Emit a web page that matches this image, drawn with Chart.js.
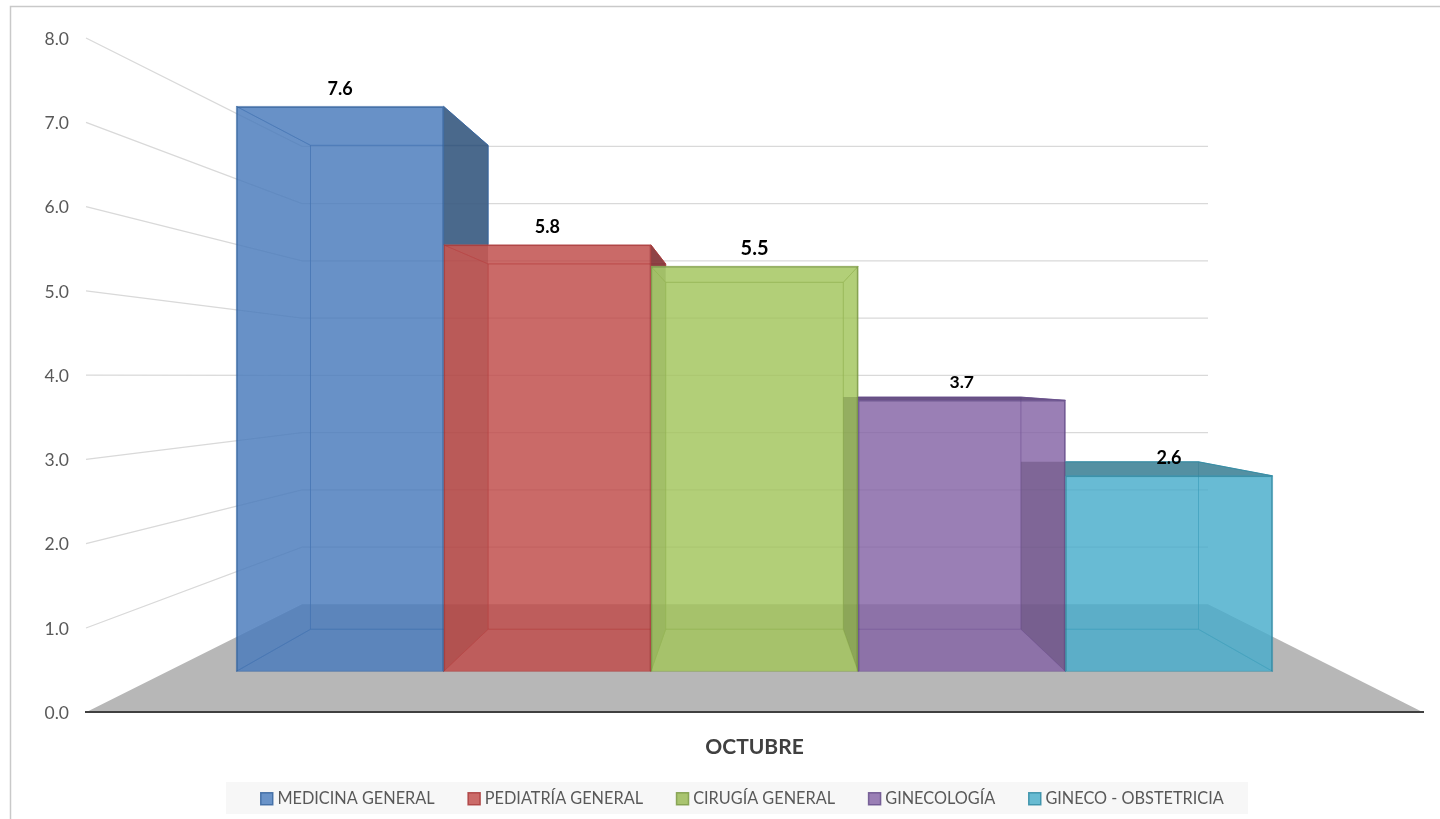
<!DOCTYPE html>
<html lang="en">

<head>
    <meta charset="UTF-8" />
    <title>Octubre</title>
    <script src="https://cdn.jsdelivr.net/npm/chart.js"></script>
    <style>
        html,
        body {
            margin: 0;
            padding: 0;
            background-color: #fff;
            overflow: hidden;
        }

        canvas {
            display: block;
        }
    </style>
</head>

<body>
    <canvas id="barChart" width="1440" height="819"></canvas>
    <script>
        const categories = ["OCTUBRE"];
        const seriesNames = ["MEDICINA GENERAL", "PEDIATRÍA GENERAL", "CIRUGÍA GENERAL", "GINECOLOGÍA", "GINECO - OBSTETRICIA"];
        const seriesValues = [7.63, 5.76, 5.47, 3.66, 2.64];
        const yTicks = [0, 1, 2, 3, 4, 5, 6, 7, 8];

        const faceColors = ["rgba(73,123,188,.58)", "rgba(191,74,72,.58)", "rgba(162,197,92,.58)", "rgba(133,100,165,.58)", "rgba(72,173,203,.58)"];
        const darkColors = ["rgba(58,89,123,.82)", "rgba(127,50,55,.82)", "rgba(94,116,52,.82)", "rgba(89,67,118,.82)", "rgba(71,130,149,.82)"];
        const edgeColors = ["rgba(56,102,160,.85)", "rgba(170,60,60,.85)", "rgba(125,155,70,.85)", "rgba(105,80,140,.85)", "rgba(50,140,165,.85)"];
        const legendFills = ["#6a93c8", "#cb6b69", "#a9c46f", "#9a7fb5", "#68bbd2"];
        const labelSizes = [18, 18, 20, 17.5, 18];

        // how much the back of a bar shrinks towards the middle of the chart
        const backShrink = 0.857;
        const wallLeft = 302;
        const wallRight = 1208;
        const legendShift = 10.5;

        const scene3d = {
            id: "scene3d",
            afterLayout(chart) {
                // legend is centred a bit to the right of the canvas middle
                chart.legend.left += legendShift;
                chart.legend.right += legendShift;
                // x axis box is short because of the legend padding, don't clip its label
                chart.scales.x.bottom += 10;
            },
            beforeDraw(chart) {
                const ctx = chart.ctx;
                const area = chart.chartArea;
                const y = chart.scales.y;
                const yWall = chart.scales.yWall;

                ctx.save();
                // outer frame
                ctx.strokeStyle = "#c9c9c9";
                ctx.lineWidth = 1.5;
                ctx.strokeRect(10.5, 6.5, 1500, 900);

                // legend background
                ctx.fillStyle = "#f7f7f7";
                ctx.fillRect(226, 782, 1022, 32);

                // floor
                ctx.fillStyle = "#b7b7b7";
                ctx.beginPath();
                ctx.moveTo(area.left, area.bottom);
                ctx.lineTo(area.right, area.bottom);
                ctx.lineTo(wallRight, yWall.getPixelForValue(0));
                ctx.lineTo(wallLeft, yWall.getPixelForValue(0));
                ctx.closePath();
                ctx.fill();

                // side and back wall grid lines
                ctx.strokeStyle = "#d9d9d9";
                ctx.lineWidth = 1.3;
                yTicks.forEach((t) => {
                    if (t === 0) return;
                    ctx.beginPath();
                    ctx.moveTo(area.left, y.getPixelForValue(t));
                    ctx.lineTo(wallLeft, yWall.getPixelForValue(t));
                    ctx.lineTo(wallRight, yWall.getPixelForValue(t));
                    ctx.stroke();
                });
                ctx.restore();
            },
            beforeDatasetsDraw(chart) {
                const ctx = chart.ctx;
                const area = chart.chartArea;
                const cx = (area.left + area.right) / 2;
                const yBack = chart.scales.yBack;

                function tracePoly(points) {
                    points.forEach((p, n) => (n ? ctx.lineTo(p[0], p[1]) : ctx.moveTo(p[0], p[1])));
                    ctx.closePath();
                }

                function face(points, fill, edge, edgeAlpha) {
                    ctx.beginPath();
                    tracePoly(points);
                    ctx.fillStyle = fill;
                    ctx.fill();
                    ctx.globalAlpha = edgeAlpha;
                    ctx.strokeStyle = edge;
                    ctx.lineWidth = 1;
                    ctx.stroke();
                    ctx.globalAlpha = 1;
                }

                // front rectangles of the bars either side of bar i
                function neighbourFronts(i) {
                    const rects = [];
                    [i - 1, i + 1].forEach((n) => {
                        if (n < 0 || n >= seriesValues.length) return;
                        const b = chart.getDatasetMeta(n).data[0];
                        rects.push([b.x - b.width / 2, b.y, b.width, b.base - b.y]);
                    });
                    return rects;
                }

                seriesValues.forEach((value, i) => {
                    const bar = chart.getDatasetMeta(i).data[0];
                    const fl = bar.x - bar.width / 2;
                    const fr = bar.x + bar.width / 2;
                    const ft = bar.y;
                    const fb = bar.base;
                    const bl = cx + (fl - cx) * backShrink;
                    const br = cx + (fr - cx) * backShrink;
                    const bt = yBack.getPixelForValue(value);
                    const bb = yBack.getPixelForValue(0);

                    const back = [[bl, bt], [br, bt], [br, bb], [bl, bb]];
                    const bottom = [[fl, fb], [fr, fb], [br, bb], [bl, bb]];
                    const left = [[fl, ft], [bl, bt], [bl, bb], [fl, fb]];
                    const right = [[fr, ft], [br, bt], [br, bb], [fr, fb]];
                    const top = [[fl, ft], [fr, ft], [br, bt], [bl, bt]];

                    // faces that stick out past the front rectangle get the dark shade
                    const inner = [back, bottom];
                    const outer = [];
                    (bl < fl ? outer : inner).push(left);
                    (br > fr ? outer : inner).push(right);
                    (bt < ft ? outer : inner).push(top);

                    const rects = neighbourFronts(i);

                    // nothing of this bar tints the neighbour's front
                    ctx.save();
                    ctx.beginPath();
                    ctx.rect(0, 0, chart.width, chart.height);
                    rects.forEach((r) => ctx.rect(r[0], r[1], r[2], r[3]));
                    ctx.clip("evenodd");
                    inner.forEach((p) => face(p, faceColors[i], edgeColors[i], 0.6));
                    outer.forEach((p) => face(p, darkColors[i], edgeColors[i], 1));
                    ctx.restore();

                    // where it would show through the neighbour, just a plain shadow
                    if (outer.length) {
                        ctx.save();
                        ctx.beginPath();
                        rects.forEach((r) => ctx.rect(r[0], r[1], r[2], r[3]));
                        ctx.clip();
                        ctx.beginPath();
                        outer.forEach(tracePoly);
                        ctx.fillStyle = "rgba(0,0,0,.35)";
                        ctx.fill();
                        ctx.restore();
                    }
                });
            },
            afterDatasetsDraw(chart) {
                const ctx = chart.ctx;
                ctx.save();
                ctx.fillStyle = "#000";
                ctx.textAlign = "center";
                ctx.textBaseline = "middle";
                seriesValues.forEach((value, i) => {
                    const bar = chart.getDatasetMeta(i).data[0];
                    ctx.font = "bold " + labelSizes[i] + "px Lato";
                    ctx.fillText(value.toFixed(1), bar.x, bar.y - 17.5);
                });
                ctx.restore();
            },
        };

        new Chart(document.getElementById("barChart").getContext("2d"), {
            type: "bar",
            data: {
                labels: categories,
                datasets: seriesNames.map((name, i) => ({
                    label: name,
                    data: [seriesValues[i]],
                    yAxisID: "yFront",
                    backgroundColor: faceColors[i],
                    borderColor: edgeColors[i],
                    borderWidth: 1.5,
                })),
            },
            options: {
                responsive: false,
                animation: false,
                categoryPercentage: 0.775,
                barPercentage: 1,
                layout: {
                    padding: { left: 44, right: 17, top: 38, bottom: 2 },
                },
                plugins: {
                    tooltip: { enabled: false },
                    legend: {
                        position: "bottom",
                        onClick: null,
                        labels: {
                            usePointStyle: true,
                            boxWidth: 5,
                            boxHeight: 12,
                            padding: 37,
                            color: "#595959",
                            font: { family: "Lato", size: 16.3 },
                            generateLabels(chart) {
                                return chart.data.datasets.map((ds, i) => ({
                                    text: ds.label,
                                    fillStyle: legendFills[i],
                                    strokeStyle: edgeColors[i],
                                    lineWidth: 1.5,
                                    pointStyle: "rect",
                                    fontColor: "#595959",
                                    datasetIndex: i,
                                }));
                            },
                        },
                    },
                },
                scales: {
                    x: {
                        grid: { drawOnChartArea: false, drawTicks: false },
                        border: { display: true, color: "#404040", width: 2 },
                        ticks: {
                            padding: 22,
                            color: "#404040",
                            font: { family: "Lato", size: 21, weight: "bold" },
                        },
                        afterFit(scale) {
                            scale.height = 41.4;
                        },
                    },
                    y: {
                        min: 0,
                        max: 8,
                        afterBuildTicks(scale) {
                            scale.ticks = yTicks.map((v) => ({ value: v }));
                        },
                        grid: { display: false, drawTicks: false },
                        border: { display: false },
                        ticks: {
                            padding: 17,
                            labelOffset: 1,
                            color: "#595959",
                            font: { family: "Lato", size: 17.5 },
                            callback: (v) => v.toFixed(1),
                        },
                        afterFit(scale) {
                            scale.width = 42;
                        },
                    },
                    // hidden axes for the planes of the 3D box: front of bars, back of bars, back wall
                    yFront: { display: false, min: -41 / 74, max: 633 / 74 },
                    yBack: { display: false, min: -83 / 63.4, max: 591 / 63.4 },
                    yWall: { display: false, min: -108 / 57.2, max: 566 / 57.2 },
                },
            },
            plugins: [scene3d],
        });
    </script>
</body>

</html>
